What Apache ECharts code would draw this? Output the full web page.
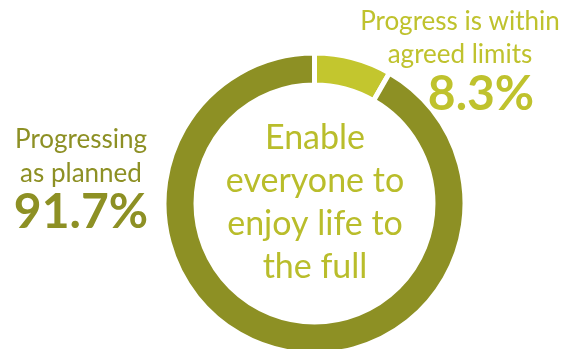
<!DOCTYPE html>
<html>
<head>
<meta charset="utf-8">
<script src="https://cdn.jsdelivr.net/npm/echarts@6/dist/echarts.min.js"></script>
<style>
  html, body { margin: 0; padding: 0; background: #ffffff; }
  #chart { width: 565px; height: 349px; }
</style>
</head>
<body>
<div id="chart"></div>
<script>
// Status split of the objective (percent)
const categories = ['Progress is within\nagreed limits', 'Progressing\nas planned'];
const shares = [8.3, 91.7];
const sliceColors = ['#c3c62e', '#8d9024'];
const centerLines = ['Enable', 'everyone to', 'enjoy life to', 'the full'];

const FONT = 'Lato, "Open Sans", sans-serif';
const lightText = '#bfc22d';
const centreText = '#b9bd2b';

// Where each status label block sits (top-centre anchor) and how the value line is nudged
const labelPlacement = [
  { x: 460, y: 5, nameLine: 33, valueLine: 48, valueShift: 42 },
  { x: 81, y: 123, nameLine: 34, valueLine: 43, valueShift: 0 }
];

function richFor(i, color) {
  const p = labelPlacement[i];
  return {
    name: { fontFamily: FONT, fontSize: 26, lineHeight: p.nameLine, color: color, align: 'center' },
    val: { fontFamily: FONT, fontSize: 48, fontWeight: 'bold', lineHeight: p.valueLine, color: color,
           align: 'center', padding: [0, 0, 0, p.valueShift] }
  };
}

const pieData = categories.map((name, i) => ({
  name: name,
  value: shares[i],
  itemStyle: { color: sliceColors[i] },
  label: { rich: richFor(i, i === 0 ? lightText : sliceColors[i]) }
}));

const chart = echarts.init(document.getElementById('chart'), null, { renderer: 'canvas' });

chart.setOption({
  animation: false,
  backgroundColor: '#ffffff',
  series: [{
    type: 'pie',
    center: [314.5, 203.5],
    radius: [118.5, 150.5],
    startAngle: 90,
    clockwise: true,
    avoidLabelOverlap: false,
    silent: true,
    itemStyle: { borderColor: '#ffffff', borderWidth: 5 },
    label: {
      show: true,
      position: 'outside',
      formatter: (p) => '{name|' + p.name + '}\n{val|' + p.value.toFixed(1) + '%}'
    },
    labelLine: { show: false },
    labelLayout: (params) => {
      const p = labelPlacement[params.dataIndex];
      return { x: p.x, y: p.y, align: 'center', verticalAlign: 'top' };
    },
    data: pieData
  }],
  graphic: [{
    type: 'text',
    x: 315,
    y: 117,
    style: {
      text: centerLines.join('\n'),
      fill: centreText,
      font: '34px ' + FONT,
      lineHeight: 43,
      align: 'center',
      verticalAlign: 'top'
    }
  }]
});
</script>
</body>
</html>
